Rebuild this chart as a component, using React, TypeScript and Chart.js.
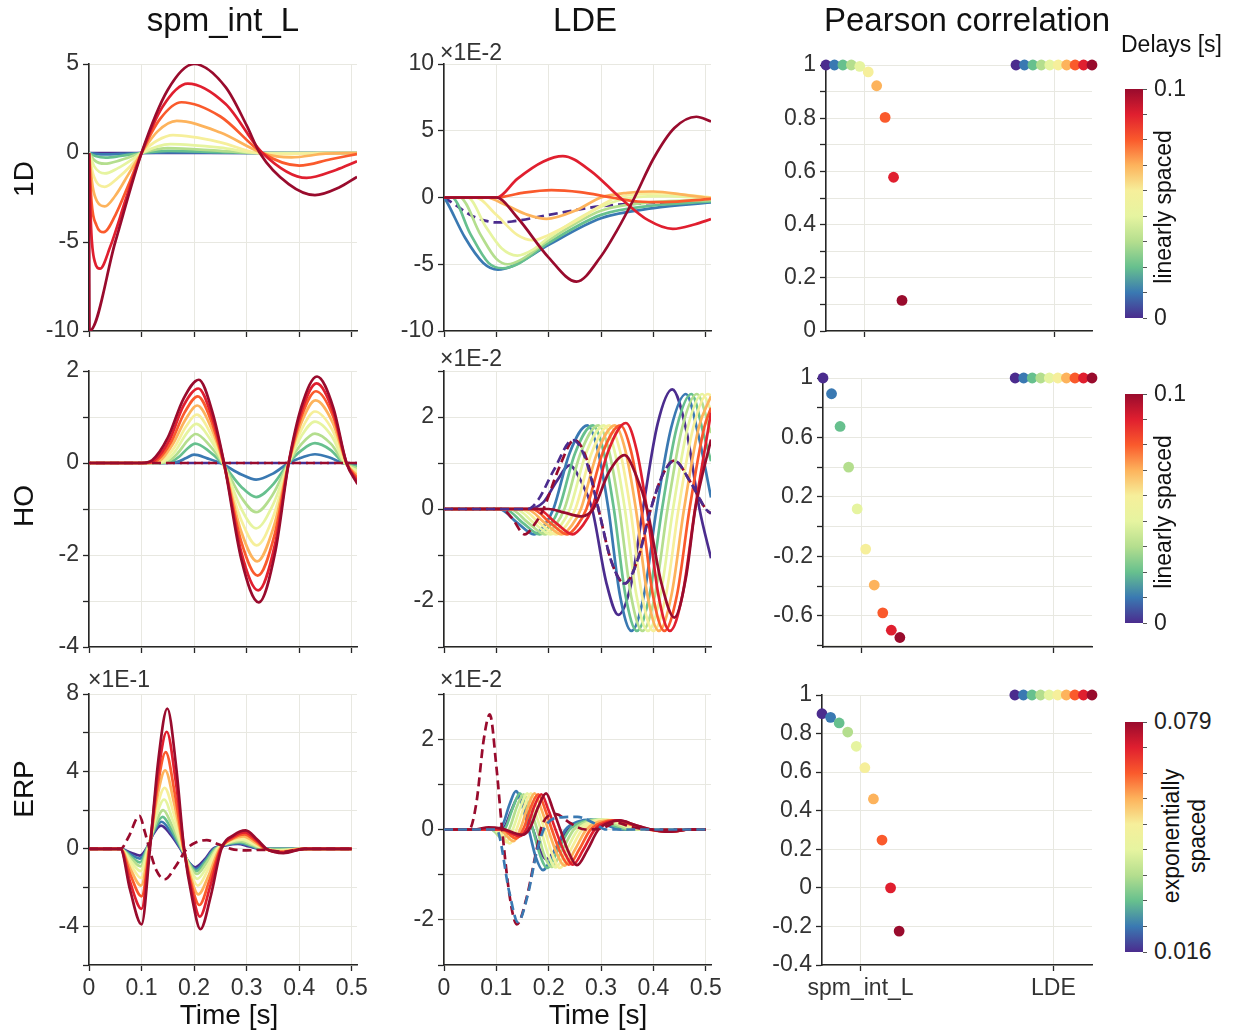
import React, { useEffect, useRef } from 'react';
import { Chart, registerables } from 'chart.js';

Chart.register(...registerables);

type Pt = [number, number];

// ------------------------------------------------------------------ data
const COLUMN_TITLES = ['spm_int_L', 'LDE', 'Pearson correlation'];
const ROW_TITLES = ['1D', 'HO', 'ERP'];
const CATEGORIES = ['spm_int_L', 'LDE'];
const DELAY_COLORS = ['#4b2c8e', '#3a79b2', '#67c08e', '#b4de8e', '#e6f4a0', '#f6ef9b', '#fdb35c', '#fa5a2c', '#e01f2f', '#990b2d'];
const COLORBAR_TOP = ['0.1', '0.1', '0.079'];
const COLORBAR_BOTTOM = ['0', '0', '0.016'];
const COLORBAR_CAPTION = ['linearly spaced', 'linearly spaced', 'exponentially\nspaced'];

// Pearson correlation (one value per delay)
const R_1D_SPM = [1, 1, 1, 1, 0.995, 0.974, 0.922, 0.803, 0.578, 0.115];
const R_1D_LDE = [1, 1, 1, 1, 1, 1, 1, 1, 1, 1];
const R_HO_SPM = [1, 0.894, 0.674, 0.4, 0.119, -0.151, -0.393, -0.58, -0.697, -0.746];
const R_HO_LDE = [1, 1, 1, 1, 1, 1, 1, 1, 1, 1];
const R_ERP_SPM = [0.903, 0.884, 0.855, 0.808, 0.734, 0.623, 0.461, 0.248, 0.0, -0.224];
const R_ERP_LDE = [1, 1, 1, 1, 1, 1, 1, 1, 1, 1];

// 1D, spm_int_L  [time s, value]
const S_1D_SPM: Pt[][] = [
  [[0, 0], [0.03, -0.01], [0.1, 0], [0.51, 0]],
  [[0, 0], [0.012, -0.05], [0.032, -0.08], [0.06, -0.05], [0.1, 0], [0.15, 0.03], [0.3, 0], [0.51, 0]],
  [[0, 0], [0.012, -0.17], [0.032, -0.26], [0.06, -0.17], [0.1, 0], [0.15, 0.12], [0.25, 0.05], [0.32, 0], [0.51, 0]],
  [[0, 0], [0.01, -0.4], [0.03, -0.6], [0.06, -0.4], [0.1, 0], [0.15, 0.27], [0.25, 0.12], [0.32, 0], [0.51, 0]],
  [[0, 0], [0.01, -0.75], [0.03, -1.15], [0.055, -0.85], [0.08, -0.4], [0.1, 0], [0.155, 0.5], [0.25, 0.3], [0.32, 0], [0.36, -0.02], [0.51, 0]],
  [[0, 0], [0.008, -1.2], [0.03, -1.9], [0.055, -1.4], [0.08, -0.7], [0.1, 0], [0.13, 0.7], [0.16, 1.0], [0.25, 0.6], [0.32, 0], [0.37, -0.07], [0.44, 0], [0.51, 0]],
  [[0, 0], [0.007, -1.9], [0.016, -2.75], [0.03, -3.0], [0.05, -2.4], [0.075, -1.2], [0.1, 0], [0.13, 1.2], [0.167, 1.8], [0.25, 1.15], [0.33, 0], [0.385, -0.25], [0.45, -0.04], [0.51, 0]],
  [[0, 0], [0.005, -2.8], [0.014, -4.05], [0.028, -4.45], [0.05, -3.5], [0.075, -1.8], [0.1, 0], [0.135, 1.9], [0.176, 2.85], [0.25, 2.05], [0.33, 0], [0.4, -0.71], [0.46, -0.35], [0.51, -0.06]],
  [[0, 0], [0.004, -4.2], [0.011, -6.1], [0.021, -6.5], [0.04, -5.3], [0.07, -2.6], [0.1, 0], [0.14, 2.6], [0.188, 3.9], [0.26, 2.75], [0.33, 0], [0.414, -1.4], [0.47, -0.95], [0.51, -0.47]],
  [[0, 0], [0.001, -10], [0.05, -5], [0.1, 0], [0.15, 3.55], [0.2, 5.0], [0.26, 3.7], [0.3, 1.55], [0.325, 0], [0.38, -1.75], [0.43, -2.37], [0.475, -1.95], [0.51, -1.34]],
];

// 1D, LDE (x1E-2)
const S_1D_LDE: Pt[][] = [
  [[0, 0], [0.02, -0.5], [0.05, -1.3], [0.08, -1.75], [0.1, -1.87], [0.13, -1.8], [0.2, -1.3], [0.3, -0.65], [0.4, -0.4], [0.51, -0.25]],
  [[0, 0], [0.005, -0.3], [0.04, -3.0], [0.075, -4.9], [0.103, -5.4], [0.13, -5.15], [0.2, -3.55], [0.3, -1.55], [0.4, -0.8], [0.51, -0.37]],
  [[0, 0], [0.015, 0], [0.05, -2.7], [0.085, -4.9], [0.112, -5.3], [0.14, -5.0], [0.2, -3.4], [0.3, -1.3], [0.4, -0.6], [0.51, -0.3]],
  [[0, 0], [0.03, 0], [0.07, -2.8], [0.1, -4.6], [0.122, -5.0], [0.15, -4.6], [0.2, -3.2], [0.3, -1.0], [0.4, -0.35], [0.51, -0.2]],
  [[0, 0], [0.045, 0], [0.08, -2.2], [0.11, -3.8], [0.14, -4.35], [0.17, -3.9], [0.2, -3.0], [0.3, -0.7], [0.36, 0], [0.43, 0.1], [0.51, -0.1]],
  [[0, 0], [0.06, 0], [0.1, -1.3], [0.14, -2.8], [0.17, -3.2], [0.2, -2.8], [0.25, -1.8], [0.3, -0.6], [0.33, 0], [0.42, 0.3], [0.51, 0]],
  [[0, 0], [0.08, 0], [0.12, -0.6], [0.16, -1.3], [0.196, -1.6], [0.25, -1.0], [0.3, 0], [0.35, 0.35], [0.4, 0.45], [0.46, 0.2], [0.51, -0.05]],
  [[0, 0], [0.1, 0], [0.15, 0.35], [0.205, 0.55], [0.26, 0.4], [0.32, 0], [0.37, -0.3], [0.42, -0.35], [0.51, -0.1]],
  [[0, 0], [0.1, 0], [0.14, 1.4], [0.19, 2.7], [0.227, 3.1], [0.28, 2.0], [0.336, 0], [0.39, -1.7], [0.437, -2.35], [0.48, -2.0], [0.51, -1.62]],
  [[0, 0], [0.1, 0], [0.14, -1.5], [0.2, -4.5], [0.253, -6.3], [0.3, -4.4], [0.33, -2.5], [0.364, 0], [0.4, 2.9], [0.44, 5.2], [0.482, 6.05], [0.51, 5.7]],
];

// HO, spm_int_L
const S_HO_SPM: Pt[][] = [
  [[0, 0], [0.511, 0]],
  [[0, 0], [0.155, 0], [0.17, 0.03], [0.185, 0.11], [0.2, 0.18], [0.225, 0.1], [0.25, 0], [0.29, -0.25], [0.318, -0.36], [0.35, -0.23], [0.38, 0], [0.405, 0.12], [0.43, 0.19], [0.458, 0.12], [0.483, 0], [0.511, -0.04]],
  [[0, 0], [0.14, 0], [0.157, 0.03], [0.172, 0.14], [0.188, 0.32], [0.202, 0.42], [0.228, 0.26], [0.253, 0], [0.29, -0.52], [0.318, -0.74], [0.35, -0.47], [0.38, 0], [0.405, 0.28], [0.43, 0.43], [0.46, 0.28], [0.485, 0], [0.511, -0.08]],
  [[0, 0], [0.13, 0], [0.15, 0.03], [0.168, 0.2], [0.187, 0.48], [0.203, 0.63], [0.229, 0.39], [0.254, 0], [0.29, -0.75], [0.318, -1.07], [0.35, -0.68], [0.38, 0], [0.405, 0.42], [0.43, 0.64], [0.461, 0.41], [0.486, 0], [0.511, -0.12]],
  [[0, 0], [0.125, 0], [0.145, 0.04], [0.165, 0.27], [0.186, 0.65], [0.204, 0.85], [0.23, 0.53], [0.255, 0], [0.29, -1.0], [0.318, -1.42], [0.35, -0.91], [0.38, 0], [0.405, 0.6], [0.43, 0.9], [0.462, 0.58], [0.487, 0], [0.511, -0.17]],
  [[0, 0], [0.12, 0], [0.14, 0.05], [0.162, 0.33], [0.185, 0.8], [0.205, 1.05], [0.231, 0.65], [0.255, 0], [0.29, -1.25], [0.319, -1.79], [0.351, -1.15], [0.38, 0], [0.405, 0.74], [0.43, 1.12], [0.463, 0.72], [0.488, 0], [0.511, -0.22]],
  [[0, 0], [0.115, 0], [0.135, 0.05], [0.159, 0.4], [0.184, 0.95], [0.206, 1.25], [0.232, 0.78], [0.256, 0], [0.29, -1.5], [0.32, -2.14], [0.352, -1.37], [0.38, 0], [0.405, 0.9], [0.431, 1.36], [0.464, 0.87], [0.49, 0], [0.511, -0.28]],
  [[0, 0], [0.11, 0], [0.13, 0.06], [0.156, 0.45], [0.182, 1.1], [0.207, 1.45], [0.233, 0.9], [0.256, 0], [0.29, -1.72], [0.321, -2.45], [0.353, -1.57], [0.38, 0], [0.405, 1.03], [0.432, 1.56], [0.465, 1.0], [0.49, 0], [0.511, -0.34]],
  [[0, 0], [0.105, 0], [0.125, 0.06], [0.153, 0.5], [0.18, 1.25], [0.208, 1.62], [0.234, 1.0], [0.257, 0], [0.29, -1.95], [0.322, -2.77], [0.354, -1.77], [0.38, 0], [0.405, 1.14], [0.433, 1.73], [0.465, 1.1], [0.49, 0], [0.511, -0.4]],
  [[0, 0], [0.1, 0], [0.12, 0.06], [0.15, 0.55], [0.18, 1.4], [0.209, 1.81], [0.235, 1.1], [0.257, 0], [0.29, -2.1], [0.323, -3.03], [0.355, -1.9], [0.38, 0], [0.405, 1.25], [0.434, 1.88], [0.465, 1.2], [0.49, 0], [0.511, -0.46]],
];
const HO_SPM_TRUE: Pt[] = [[0, 0], [0.511, 0]];

// HO, LDE (x1E-2)
const S_HO_LDE: Pt[][] = [
  [[0, 0], [0.16, 0], [0.19, 0.15], [0.215, 0.6], [0.24, 0.95], [0.262, 0.6], [0.283, 0], [0.31, -1.6], [0.333, -2.3], [0.358, -1.6], [0.38, 0], [0.408, 1.85], [0.436, 2.6], [0.463, 1.7], [0.488, 0], [0.51, -1.07]],
  [[0, 0], [0.105, 0], [0.14, -0.3], [0.172, -0.55], [0.192, -0.35], [0.209, 0], [0.24, 1.22], [0.274, 1.82], [0.294, 1.27], [0.314, 0], [0.336, -1.87], [0.358, -2.65], [0.382, -1.87], [0.406, 0], [0.434, 1.77], [0.462, 2.5], [0.486, 1.6], [0.51, 0.25]],
  [[0, 0], [0.1155, 0], [0.1505, -0.3], [0.1825, -0.55], [0.2025, -0.35], [0.2195, 0], [0.2505, 1.22], [0.2845, 1.82], [0.3045, 1.27], [0.3245, 0], [0.3465, -1.87], [0.3685, -2.65], [0.3925, -1.87], [0.4165, 0], [0.4445, 1.77], [0.4725, 2.5], [0.4965, 1.6], [0.51, 1.04]],
  [[0, 0], [0.126, 0], [0.161, -0.3], [0.193, -0.55], [0.213, -0.35], [0.23, 0], [0.261, 1.22], [0.295, 1.82], [0.315, 1.27], [0.335, 0], [0.357, -1.87], [0.379, -2.65], [0.403, -1.87], [0.427, 0], [0.455, 1.77], [0.483, 2.5], [0.51, 1.65]],
  [[0, 0], [0.1365, 0], [0.1715, -0.3], [0.2035, -0.55], [0.2235, -0.35], [0.2405, 0], [0.2715, 1.22], [0.3055, 1.82], [0.3255, 1.27], [0.3455, 0], [0.3675, -1.87], [0.3895, -2.65], [0.4135, -1.87], [0.4375, 0], [0.4655, 1.77], [0.4935, 2.5], [0.51, 2.15]],
  [[0, 0], [0.147, 0], [0.182, -0.3], [0.214, -0.55], [0.234, -0.35], [0.251, 0], [0.282, 1.22], [0.316, 1.82], [0.336, 1.27], [0.356, 0], [0.378, -1.87], [0.4, -2.65], [0.424, -1.87], [0.448, 0], [0.476, 1.77], [0.504, 2.5], [0.51, 2.47]],
  [[0, 0], [0.1575, 0], [0.1925, -0.3], [0.2245, -0.55], [0.2445, -0.35], [0.2615, 0], [0.2925, 1.22], [0.3265, 1.82], [0.3465, 1.27], [0.3665, 0], [0.3885, -1.87], [0.4105, -2.65], [0.4345, -1.87], [0.4585, 0], [0.4865, 1.77], [0.51, 2.45]],
  [[0, 0], [0.168, 0], [0.203, -0.3], [0.235, -0.55], [0.255, -0.35], [0.272, 0], [0.303, 1.22], [0.337, 1.82], [0.357, 1.27], [0.377, 0], [0.399, -1.87], [0.421, -2.65], [0.445, -1.87], [0.469, 0], [0.497, 1.77], [0.51, 2.2]],
  [[0, 0], [0.1785, 0], [0.2135, -0.3], [0.2455, -0.55], [0.2655, -0.35], [0.2825, 0], [0.3135, 1.25], [0.3475, 1.87], [0.3675, 1.3], [0.3875, 0], [0.4095, -1.87], [0.4315, -2.65], [0.4555, -1.87], [0.4795, 0], [0.51, 2.1]],
  [[0, 0], [0.2, 0], [0.23, -0.08], [0.262, -0.16], [0.285, 0], [0.315, 0.8], [0.345, 1.17], [0.368, 0.7], [0.388, 0], [0.415, -1.6], [0.44, -2.36], [0.462, -1.5], [0.48, 0], [0.51, 1.51]],
];
const HO_LDE_TRUE_FIRST: Pt[] = [[0, 0], [0.16, 0], [0.18, 0.2], [0.21, 0.85], [0.246, 1.5], [0.27, 1.1], [0.295, 0], [0.32, -1.15], [0.345, -1.62], [0.37, -1.1], [0.395, 0], [0.418, 0.75], [0.44, 1.05], [0.47, 0.6], [0.5, 0], [0.51, -0.1]];
const HO_LDE_TRUE_LAST: Pt[] = [[0, 0], [0.11, 0], [0.13, -0.2], [0.154, -0.55], [0.175, -0.3], [0.19, 0], [0.22, 0.9], [0.249, 1.5], [0.272, 1.1], [0.295, 0], [0.32, -1.15], [0.345, -1.62], [0.37, -1.1], [0.395, 0], [0.418, 0.75], [0.44, 1.05], [0.47, 0.6], [0.5, 0], [0.51, -0.1]];

// ERP, spm_int_L (x1E-1)
const S_ERP_SPM: Pt[][] = [
  [[0, 0], [0.06, 0], [0.08, -0.2], [0.097, -0.35], [0.109, 0], [0.122, 0.75], [0.137, 1.2], [0.155, 0.75], [0.174, 0], [0.187, -0.6], [0.202, -0.95], [0.22, -0.55], [0.236, 0], [0.26, 0.18], [0.283, 0.25], [0.305, 0.12], [0.325, 0], [0.5, 0]],
  [[0, 0], [0.06, 0], [0.08, -0.3], [0.097, -0.5], [0.11, 0], [0.124, 0.9], [0.138, 1.4], [0.156, 0.85], [0.175, 0], [0.189, -0.65], [0.203, -1.05], [0.221, -0.6], [0.238, 0], [0.262, 0.22], [0.285, 0.3], [0.307, 0.15], [0.327, 0], [0.5, 0]],
  [[0, 0], [0.06, 0], [0.08, -0.4], [0.097, -0.7], [0.11, 0], [0.125, 1.05], [0.14, 1.65], [0.157, 1.0], [0.176, 0], [0.19, -0.72], [0.204, -1.15], [0.222, -0.66], [0.24, 0], [0.264, 0.26], [0.287, 0.35], [0.309, 0.17], [0.329, 0], [0.5, 0]],
  [[0, 0], [0.06, 0], [0.08, -0.5], [0.098, -0.9], [0.111, 0], [0.126, 1.25], [0.141, 2.0], [0.158, 1.2], [0.177, 0], [0.191, -0.82], [0.205, -1.3], [0.223, -0.75], [0.242, 0], [0.266, 0.3], [0.289, 0.4], [0.311, 0.2], [0.331, 0], [0.36, -0.05], [0.5, 0]],
  [[0, 0], [0.06, 0], [0.08, -0.65], [0.098, -1.15], [0.112, 0], [0.127, 1.6], [0.143, 2.55], [0.159, 1.5], [0.178, 0], [0.192, -0.98], [0.206, -1.55], [0.225, -0.9], [0.244, 0], [0.268, 0.35], [0.291, 0.47], [0.313, 0.24], [0.333, 0], [0.362, -0.08], [0.4, 0], [0.5, 0]],
  [[0, 0], [0.06, 0], [0.08, -0.85], [0.099, -1.5], [0.113, 0], [0.128, 2.0], [0.144, 3.15], [0.161, 1.85], [0.179, 0], [0.193, -1.2], [0.207, -1.9], [0.226, -1.1], [0.246, 0], [0.27, 0.41], [0.293, 0.55], [0.315, 0.28], [0.334, 0], [0.364, -0.1], [0.402, 0], [0.5, 0]],
  [[0, 0], [0.06, 0], [0.079, -1.05], [0.099, -1.9], [0.114, 0], [0.129, 2.55], [0.145, 4.05], [0.162, 2.35], [0.18, 0], [0.194, -1.5], [0.208, -2.35], [0.228, -1.35], [0.248, 0], [0.272, 0.49], [0.294, 0.65], [0.316, 0.33], [0.335, 0], [0.366, -0.13], [0.405, 0], [0.5, 0]],
  [[0, 0], [0.06, 0], [0.079, -1.35], [0.1, -2.45], [0.115, 0], [0.13, 3.15], [0.146, 5.0], [0.163, 2.9], [0.18, 0], [0.195, -1.85], [0.21, -2.9], [0.229, -1.65], [0.25, 0], [0.274, 0.56], [0.296, 0.75], [0.318, 0.38], [0.336, 0], [0.368, -0.16], [0.408, 0], [0.5, 0]],
  [[0, 0], [0.06, 0], [0.078, -1.7], [0.1, -3.1], [0.115, 0], [0.131, 3.8], [0.148, 6.05], [0.165, 3.5], [0.181, 0], [0.196, -2.2], [0.211, -3.5], [0.23, -2.0], [0.251, 0], [0.275, 0.64], [0.297, 0.85], [0.319, 0.43], [0.337, 0], [0.369, -0.19], [0.41, 0], [0.5, 0]],
  [[0, 0], [0.06, 0], [0.078, -2.1], [0.1, -3.9], [0.116, 0], [0.132, 4.6], [0.149, 7.25], [0.166, 4.2], [0.181, 0], [0.197, -2.65], [0.212, -4.15], [0.232, -2.4], [0.252, 0], [0.276, 0.72], [0.298, 0.95], [0.32, 0.48], [0.338, 0], [0.37, -0.22], [0.41, 0], [0.5, 0]],
];
const ERP_SPM_TRUE: Pt[] = [[0, 0], [0.06, 0], [0.075, 0.6], [0.096, 1.7], [0.106, 0.9], [0.115, 0], [0.128, -1.1], [0.144, -1.57], [0.165, -0.9], [0.186, 0], [0.205, 0.35], [0.224, 0.45], [0.245, 0.25], [0.27, 0], [0.3, -0.08], [0.33, -0.05], [0.37, -0.15], [0.41, 0], [0.5, 0]];

// ERP, LDE (x1E-2)
const S_ERP_LDE: Pt[][] = [
  [[0, 0], [0.1, 0], [0.115, 0.05], [0.128, 0.4], [0.142, 0.72], [0.157, 0.35], [0.17, 0], [0.183, -0.45], [0.195, -0.66], [0.215, -0.4], [0.238, 0], [0.265, 0.15], [0.29, 0.2], [0.32, 0.08], [0.345, 0], [0.5, 0]],
  [[0, 0], [0.1, 0], [0.112, 0.1], [0.125, 0.55], [0.1375, 0.85], [0.15, 0.5], [0.162, 0], [0.175, -0.6], [0.189, -0.9], [0.21, -0.5], [0.232, 0], [0.255, 0.17], [0.28, 0.22], [0.31, 0.1], [0.34, 0], [0.5, 0]],
  [[0, 0], [0.09, 0], [0.105, -0.1], [0.118, 0.05], [0.132, 0.5], [0.145, 0.8], [0.158, 0.45], [0.17, 0], [0.183, -0.55], [0.197, -0.85], [0.218, -0.45], [0.24, 0], [0.265, 0.17], [0.29, 0.22], [0.32, 0.1], [0.35, 0], [0.5, 0]],
  [[0, 0], [0.09, 0], [0.112, -0.2], [0.126, 0.05], [0.139, 0.5], [0.152, 0.78], [0.165, 0.45], [0.178, 0], [0.191, -0.55], [0.205, -0.83], [0.226, -0.45], [0.248, 0], [0.275, 0.18], [0.3, 0.22], [0.33, 0.1], [0.36, 0], [0.5, 0]],
  [[0, 0], [0.095, 0], [0.119, -0.28], [0.133, 0.05], [0.146, 0.5], [0.159, 0.8], [0.172, 0.45], [0.185, 0], [0.199, -0.55], [0.213, -0.84], [0.234, -0.45], [0.256, 0], [0.285, 0.19], [0.31, 0.22], [0.34, 0.1], [0.37, 0], [0.5, 0]],
  [[0, 0], [0.1, 0], [0.126, -0.31], [0.14, 0.05], [0.153, 0.5], [0.166, 0.8], [0.179, 0.45], [0.192, 0], [0.207, -0.55], [0.221, -0.85], [0.242, -0.45], [0.264, 0], [0.295, 0.19], [0.32, 0.21], [0.35, 0.1], [0.38, 0], [0.5, 0]],
  [[0, 0], [0.105, 0], [0.133, -0.26], [0.147, 0.05], [0.16, 0.5], [0.173, 0.8], [0.186, 0.45], [0.199, 0], [0.215, -0.52], [0.23, -0.8], [0.25, -0.45], [0.272, 0], [0.305, 0.19], [0.328, 0.2], [0.36, 0.1], [0.39, 0], [0.43, -0.04], [0.47, 0], [0.5, 0]],
  [[0, 0], [0.11, 0], [0.138, -0.2], [0.153, 0.05], [0.166, 0.5], [0.18, 0.78], [0.193, 0.45], [0.206, 0], [0.222, -0.5], [0.238, -0.78], [0.258, -0.45], [0.28, 0], [0.31, 0.18], [0.33, 0.2], [0.36, 0.1], [0.39, 0], [0.43, -0.05], [0.47, 0], [0.5, 0]],
  [[0, 0], [0.11, 0], [0.144, -0.15], [0.159, 0.05], [0.172, 0.5], [0.186, 0.78], [0.199, 0.45], [0.213, 0], [0.23, -0.5], [0.246, -0.78], [0.266, -0.45], [0.288, 0], [0.315, 0.17], [0.333, 0.2], [0.365, 0.1], [0.395, 0], [0.43, -0.05], [0.47, 0], [0.5, 0]],
  [[0, 0], [0.06, 0], [0.085, 0.05], [0.11, 0.02], [0.15, -0.12], [0.165, 0.05], [0.18, 0.5], [0.195, 0.8], [0.208, 0.45], [0.222, 0], [0.238, -0.5], [0.254, -0.79], [0.274, -0.45], [0.295, 0], [0.318, 0.16], [0.335, 0.2], [0.365, 0.1], [0.395, 0], [0.43, -0.05], [0.47, 0], [0.5, 0]],
];
const ERP_LDE_TRUE_LAST: Pt[] = [[0, 0], [0.048, 0], [0.062, 0.6], [0.076, 2.0], [0.0875, 2.55], [0.1, 1.4], [0.111, 0], [0.126, -1.52], [0.139, -2.1], [0.158, -1.5], [0.176, -0.5], [0.189, 0.15], [0.214, 0.34], [0.24, 0.15], [0.27, 0], [0.3, 0.02], [0.33, 0.15], [0.36, 0.05], [0.4, 0], [0.5, 0]];
const ERP_LDE_TRUE_SECOND: Pt[] = [[0, 0], [0.1, 0], [0.125, -1.4], [0.141, -2.05], [0.16, -1.45], [0.178, -0.45], [0.195, 0.1], [0.225, 0.27], [0.255, 0.28], [0.285, 0.15], [0.31, 0], [0.5, 0]];

// ------------------------------------------------------------------ styling / layout
const FONT = "'Liberation Sans', Arial, Helvetica, sans-serif";
const TICK_FONT = { family: FONT, size: 23 };
const GRID = '#e8e8e1';
const AXIS = '#262626';
const TICK_COLOR = '#333333';
const LINE_W = 2.7;
const DASH = [9, 5];
const PAD_L = 80, PAD_T = 30, PAD_R = 30, PAD_B = 60;

Chart.defaults.font.family = FONT;

interface Area { l: number; t: number; r: number; b: number; }

const COL_X = [{ l: 89, r: 357 }, { l: 444, r: 711 }];
const ROW_Y = [{ t: 64, b: 331 }, { t: 371, b: 647 }, { t: 694, b: 965 }];
const CORR_AREAS: Area[] = [
  { l: 826, r: 1092, t: 65, b: 331 },
  { l: 823, r: 1092, t: 378, b: 647 },
  { l: 822, r: 1092, t: 695, b: 965 },
];

function fmt(v: number): string {
  const r = Math.round(v * 100) / 100;
  return String(r === 0 ? 0 : r);
}

function boxOf(a: Area) {
  return { left: a.l - PAD_L, top: a.t - PAD_T, width: a.r - a.l + PAD_L + PAD_R, height: a.b - a.t + PAD_T + PAD_B };
}

function axisStyle() {
  return {
    border: { display: true, color: AXIS, width: 1.6 },
    grid: { color: GRID, lineWidth: 1, tickColor: AXIS, tickLength: 6, tickWidth: 1.3, drawTicks: true },
  };
}

function baseOptions(scales: any) {
  return {
    responsive: false,
    animation: false,
    events: [],
    layout: { padding: { left: 0, top: PAD_T, right: PAD_R, bottom: 0 } },
    plugins: { legend: { display: false }, tooltip: { enabled: false }, title: { display: false } },
    scales,
  };
}

interface LineSpec {
  area: Area;
  series: Pt[][];
  dashedIdx: number[];
  extra: { pts: Pt[]; color: number; offset: number }[];
  yMin: number; yMax: number; yStep: number;
  yLabel: (v: number) => string;
  xLabels: boolean;
}

function lineConfig(p: LineSpec) {
  const datasets: any[] = p.series.map((pts, i) => ({
    data: pts.map(([x, y]) => ({ x, y })),
    borderColor: DELAY_COLORS[i],
    borderWidth: LINE_W,
    borderDash: p.dashedIdx.includes(i) ? DASH : [],
    pointRadius: 0,
    fill: false,
    cubicInterpolationMode: 'monotone',
    order: 10 - i,
  }));
  p.extra.forEach((e) => {
    datasets.push({
      data: e.pts.map(([x, y]) => ({ x, y })),
      borderColor: DELAY_COLORS[e.color],
      borderWidth: LINE_W,
      borderDash: DASH,
      borderDashOffset: e.offset,
      pointRadius: 0,
      fill: false,
      cubicInterpolationMode: 'monotone',
      order: 0,
    });
  });
  const scales = {
    x: {
      type: 'linear', min: 0, max: 0.51,
      afterFit: (s: any) => { s.height = PAD_B; },
      ...axisStyle(),
      ticks: {
        stepSize: 0.1, includeBounds: false, autoSkip: false, maxRotation: 0, minRotation: 0,
        padding: 4, color: TICK_COLOR, font: TICK_FONT,
        callback: (v: number) => (p.xLabels ? fmt(v) : ''),
      },
    },
    y: {
      type: 'linear', min: p.yMin, max: p.yMax,
      afterFit: (s: any) => { s.width = PAD_L; },
      ...axisStyle(),
      ticks: {
        stepSize: p.yStep, includeBounds: false, autoSkip: false, padding: 4,
        color: TICK_COLOR, font: TICK_FONT,
        callback: (v: number) => p.yLabel(v),
      },
    },
  };
  return { type: 'line', data: { datasets }, options: baseOptions(scales) };
}

interface CorrSpec {
  area: Area;
  spm: number[]; lde: number[];
  yMin: number; yMax: number; yStep: number;
  yLabel: (v: number) => string;
  xLabels: boolean;
}

function corrConfig(p: CorrSpec) {
  const spread = 0.4 / (DELAY_COLORS.length - 1);
  const datasets = DELAY_COLORS.map((c, i) => ({
    data: [
      { x: 0 - 0.2 + i * spread, y: p.spm[i] },
      { x: 1 - 0.2 + i * spread, y: p.lde[i] },
    ],
    backgroundColor: c,
    borderColor: c,
    borderWidth: 0,
    pointRadius: 5.4,
    clip: false,
    order: 10 - i,
  }));
  const scales = {
    x: {
      type: 'linear', min: -0.2, max: 1.2,
      afterFit: (s: any) => { s.height = PAD_B; },
      afterBuildTicks: (s: any) => { s.ticks = [{ value: 0 }, { value: 1 }]; },
      ...axisStyle(),
      ticks: {
        autoSkip: false, maxRotation: 0, minRotation: 0, padding: 4, color: TICK_COLOR, font: TICK_FONT,
        callback: (v: number) => (p.xLabels ? CATEGORIES[Math.round(v)] : ''),
      },
    },
    y: {
      type: 'linear', min: p.yMin, max: p.yMax,
      afterFit: (s: any) => { s.width = PAD_L; },
      ...axisStyle(),
      ticks: {
        stepSize: p.yStep, includeBounds: false, autoSkip: false, padding: 4,
        color: TICK_COLOR, font: TICK_FONT,
        callback: (v: number) => p.yLabel(v),
      },
    },
  };
  return { type: 'scatter', data: { datasets }, options: baseOptions(scales) };
}

function ChartBox({ area, make }: { area: Area; make: () => any }) {
  const ref = useRef<HTMLCanvasElement>(null);
  const b = boxOf(area);
  useEffect(() => {
    const chart = new Chart(ref.current as HTMLCanvasElement, make());
    return () => chart.destroy();
  }, []);
  return (
    <canvas
      ref={ref}
      width={b.width}
      height={b.height}
      style={{ position: 'absolute', left: b.left, top: b.top, width: b.width, height: b.height }}
    />
  );
}

function Label({ x, y, size, text, align = 'center', rotate = false, color = '#111' }: any) {
  const style: React.CSSProperties = {
    position: 'absolute', left: x, top: y, fontSize: size, fontFamily: FONT, color,
    whiteSpace: 'pre', lineHeight: 1.12, textAlign: 'center',
    transform: (align === 'center' ? 'translate(-50%,-50%)' : 'translate(0,-50%)') + (rotate ? ' rotate(-90deg)' : ''),
  };
  return <div style={style}>{text}</div>;
}

function ColorBar({ top, bottom, row }: { top: number; bottom: number; row: number }) {
  const h = bottom - top;
  const n = DELAY_COLORS.length;
  return (
    <>
      <div style={{ position: 'absolute', left: 1125, top, width: 18, height: h, background: `linear-gradient(to top, ${DELAY_COLORS.join(', ')})` }} />
      {DELAY_COLORS.map((_, k) => (
        <div key={k} style={{ position: 'absolute', left: 1143, top: top + (k * h) / (n - 1) - 0.5, width: 4, height: 1, background: '#555' }} />
      ))}
      <Label x={1154} y={top} size={23} text={COLORBAR_TOP[row]} align="start" color="#222" />
      <Label x={1154} y={bottom} size={23} text={COLORBAR_BOTTOM[row]} align="start" color="#222" />
    </>
  );
}

const evenLabel = (v: number) => (Math.round(v) % 2 === 0 ? fmt(v) : '');
const allLabel = (v: number) => fmt(v);

export default function App() {
  const areaOf = (c: number, r: number): Area => ({ l: COL_X[c].l, r: COL_X[c].r, t: ROW_Y[r].t, b: ROW_Y[r].b });

  const lines: LineSpec[] = [
    { area: areaOf(0, 0), series: S_1D_SPM, dashedIdx: [], extra: [], yMin: -10, yMax: 5, yStep: 5, yLabel: allLabel, xLabels: false },
    { area: areaOf(1, 0), series: S_1D_LDE, dashedIdx: [0], extra: [], yMin: -10, yMax: 10, yStep: 5, yLabel: allLabel, xLabels: false },
    { area: areaOf(0, 1), series: S_HO_SPM, dashedIdx: [0], extra: [{ pts: HO_SPM_TRUE, color: 9, offset: 7 }], yMin: -4, yMax: 2, yStep: 1, yLabel: evenLabel, xLabels: false },
    { area: areaOf(1, 1), series: S_HO_LDE, dashedIdx: [], extra: [{ pts: HO_LDE_TRUE_FIRST, color: 0, offset: 0 }, { pts: HO_LDE_TRUE_LAST, color: 9, offset: 7 }], yMin: -3, yMax: 3, yStep: 1, yLabel: evenLabel, xLabels: false },
    { area: areaOf(0, 2), series: S_ERP_SPM, dashedIdx: [], extra: [{ pts: ERP_SPM_TRUE, color: 9, offset: 0 }], yMin: -6, yMax: 8, yStep: 2, yLabel: (v: number) => (Math.round(v) % 4 === 0 ? fmt(v) : ''), xLabels: true },
    { area: areaOf(1, 2), series: S_ERP_LDE, dashedIdx: [], extra: [{ pts: ERP_LDE_TRUE_SECOND, color: 1, offset: 0 }, { pts: ERP_LDE_TRUE_LAST, color: 9, offset: 0 }], yMin: -3, yMax: 3, yStep: 1, yLabel: evenLabel, xLabels: true },
  ];

  const corrs: CorrSpec[] = [
    { area: CORR_AREAS[0], spm: R_1D_SPM, lde: R_1D_LDE, yMin: 0, yMax: 1, yStep: 0.1, yLabel: (v: number) => (Math.round(v * 10) % 2 === 0 ? fmt(v) : ''), xLabels: false },
    { area: CORR_AREAS[1], spm: R_HO_SPM, lde: R_HO_LDE, yMin: -0.81, yMax: 1, yStep: 0.2, yLabel: (v: number) => ((Math.round(v * 10) + 2) % 4 === 0 ? fmt(v) : ''), xLabels: false },
    { area: CORR_AREAS[2], spm: R_ERP_SPM, lde: R_ERP_LDE, yMin: -0.4, yMax: 1, yStep: 0.2, yLabel: allLabel, xLabels: true },
  ];

  return (
    <div style={{ position: 'absolute', left: 0, top: 0, width: 1234, height: 1034, background: '#ffffff', overflow: 'hidden', fontFamily: FONT }}>
      {lines.map((p, k) => (
        <ChartBox key={'l' + k} area={p.area} make={() => lineConfig(p)} />
      ))}
      {corrs.map((p, k) => (
        <ChartBox key={'c' + k} area={p.area} make={() => corrConfig(p)} />
      ))}

      <Label x={223} y={20} size={33} text={COLUMN_TITLES[0]} />
      <Label x={585} y={20} size={33} text={COLUMN_TITLES[1]} />
      <Label x={967} y={20} size={33} text={COLUMN_TITLES[2]} />

      <Label x={24} y={179} size={28} text={ROW_TITLES[0]} rotate />
      <Label x={24} y={506} size={28} text={ROW_TITLES[1]} rotate />
      <Label x={24} y={789} size={28} text={ROW_TITLES[2]} rotate />

      <Label x={229} y={1015} size={28} text="Time [s]" />
      <Label x={598} y={1015} size={28} text="Time [s]" />

      <Label x={440} y={53} size={23} text={'\u00d71E-2'} align="start" color="#333" />
      <Label x={440} y={359} size={23} text={'\u00d71E-2'} align="start" color="#333" />
      <Label x={88} y={680} size={23} text={'\u00d71E-1'} align="start" color="#333" />
      <Label x={440} y={680} size={23} text={'\u00d71E-2'} align="start" color="#333" />

      <Label x={1121} y={45} size={23} text="Delays [s]" align="start" />
      <ColorBar top={89} bottom={318} row={0} />
      <ColorBar top={394} bottom={623} row={1} />
      <ColorBar top={722} bottom={952} row={2} />
      <Label x={1164} y={207} size={23} text={COLORBAR_CAPTION[0]} rotate />
      <Label x={1164} y={512} size={23} text={COLORBAR_CAPTION[1]} rotate />
      <Label x={1185} y={836} size={23} text={COLORBAR_CAPTION[2]} rotate />
    </div>
  );
}
